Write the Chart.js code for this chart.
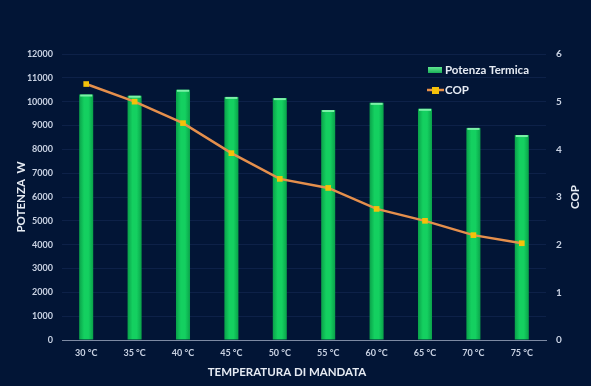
<!DOCTYPE html>
<html>
<head>
<meta charset="utf-8">
<script src="https://cdn.jsdelivr.net/npm/chart.js@4/dist/chart.umd.min.js"></script>
<style>
  html,body{margin:0;padding:0;background:#021536;}
  #wrap{width:591px;height:386px;position:relative;}
</style>
</head>
<body>
<div id="wrap"><canvas id="c"></canvas></div>
<script>
const temps = ['30 °C','35 °C','40 °C','45 °C','50 °C','55 °C','60 °C','65 °C','70 °C','75 °C'];
const potenza = [10300, 10250, 10500, 10200, 10150, 9650, 9950, 9700, 8900, 8600];
const cop = [5.37, 5.0, 4.55, 3.92, 3.38, 3.19, 2.75, 2.50, 2.20, 2.03];
const xTitle = 'TEMPERATURA DI MANDATA';

const FONT = 'Lato, "Open Sans", sans-serif';
const TXT = '#c9d2e3';

// horizontal gradient across each bar
function barFill(ctx){
  const chart = ctx.chart;
  const x = chart.scales && chart.scales.x;
  if(!x || !chart.chartArea) return '#10c050';
  const cx = x.getPixelForValue(ctx.dataIndex);
  const g = chart.ctx.createLinearGradient(cx-7, 0, cx+7, 0);
  g.addColorStop(0, '#0aa24a');
  g.addColorStop(0.35, '#14d060');
  g.addColorStop(0.65, '#14d060');
  g.addColorStop(1, '#0aa24a');
  return g;
}

// bar caps, axis titles and legend
const extras = {
  id:'extras',
  afterDatasetsDraw(chart){
    const c = chart.ctx;
    const meta = chart.getDatasetMeta(1);
    c.save();
    meta.data.forEach(b=>{
      const w = b.width;
      c.fillStyle = '#7cf0a8';
      c.fillRect(b.x - w/2 + 1, b.y, w - 2, 2);
    });
    c.restore();
  },
  afterDraw(chart){
    const c = chart.ctx;
    const lineDs = chart.data.datasets[0], barDs = chart.data.datasets[1];
    c.save();
    c.fillStyle = '#e6ebf3';
    c.font = 'bold 11.5px ' + FONT;
    c.textAlign = 'center';
    c.textBaseline = 'middle';
    // x title, a bit left of the plot centre as in the original
    c.fillText(xTitle, 287, 372);
    // COP title, reading bottom-to-top
    c.translate(575, 197);
    c.rotate(-Math.PI/2);
    c.fillText(lineDs.label, 0, 0);
    c.restore();

    // legend
    c.save();
    c.font = 'bold 11.5px ' + FONT;
    c.textBaseline = 'middle';
    const g = c.createLinearGradient(0, 66, 0, 74);
    g.addColorStop(0, '#6ef09c'); g.addColorStop(1, '#0ea84e');
    c.fillStyle = g;
    c.fillRect(428, 67, 14, 6);
    c.fillStyle = '#e6ebf3';
    c.fillText(barDs.label, 445, 70);
    c.strokeStyle = '#e8914a';
    c.lineWidth = 2.5;
    c.beginPath(); c.moveTo(427, 90); c.lineTo(444, 90); c.stroke();
    c.fillStyle = '#f4c10a';
    c.fillRect(432, 87, 7, 7);
    c.fillStyle = '#e6ebf3';
    c.fillText(lineDs.label, 445, 90);
    c.restore();
  }
};

new Chart(document.getElementById('c'), {
  data:{
    labels: temps,
    datasets:[
      { type:'line', label:'COP', data:cop, yAxisID:'y2', order:0,
        borderColor:'#e58f4c', borderWidth:2.5, tension:0,
        pointStyle:'rect', pointRadius:4, pointBackgroundColor:'#f4c10a',
        pointBorderColor:'#f4c10a', pointBorderWidth:0 },
      { type:'bar', label:'Potenza Termica', data:potenza, yAxisID:'y', order:1,
        backgroundColor:barFill, borderWidth:0,
        categoryPercentage:1, barPercentage:0.29 }
    ]
  },
  options:{
    responsive:true, maintainAspectRatio:false, animation:false,
    layout:{ padding:{ top:54, left:10, right:0, bottom:0 } },
    plugins:{ legend:{display:false}, tooltip:{enabled:false} },
    scales:{
      x:{
        grid:{ display:false, drawTicks:false },
        border:{ display:true, color:'#7d8aa3', width:1 },
        ticks:{ color:TXT, font:{ family:FONT, size:9, weight:'bold' }, padding:8, maxRotation:0 },
        afterFit(s){ s.height = 46; }
      },
      y:{
        position:'left', min:0, max:12000,
        grid:{ color:'#0d2148', lineWidth:1, drawTicks:false },
        border:{ display:false },
        ticks:{ stepSize:1000, color:TXT, font:{ family:FONT, size:9, weight:'bold' }, padding:9,
          callback:v=>String(v) },
        title:{ display:true, text:'POTENZA  W', color:'#e6ebf3',
          font:{ family:FONT, size:11.5, weight:'bold' }, padding:{ bottom:4 } },
        afterFit(s){ s.width = 52; }
      },
      y2:{
        position:'right', min:0, max:6,
        grid:{ display:false, drawTicks:false },
        border:{ display:false },
        ticks:{ stepSize:1, color:TXT, font:{ family:FONT, size:10, weight:'bold' }, padding:10 },
        afterFit(s){ s.width = 45; }
      }
    }
  },
  plugins:[extras]
});
</script>
</body>
</html>
